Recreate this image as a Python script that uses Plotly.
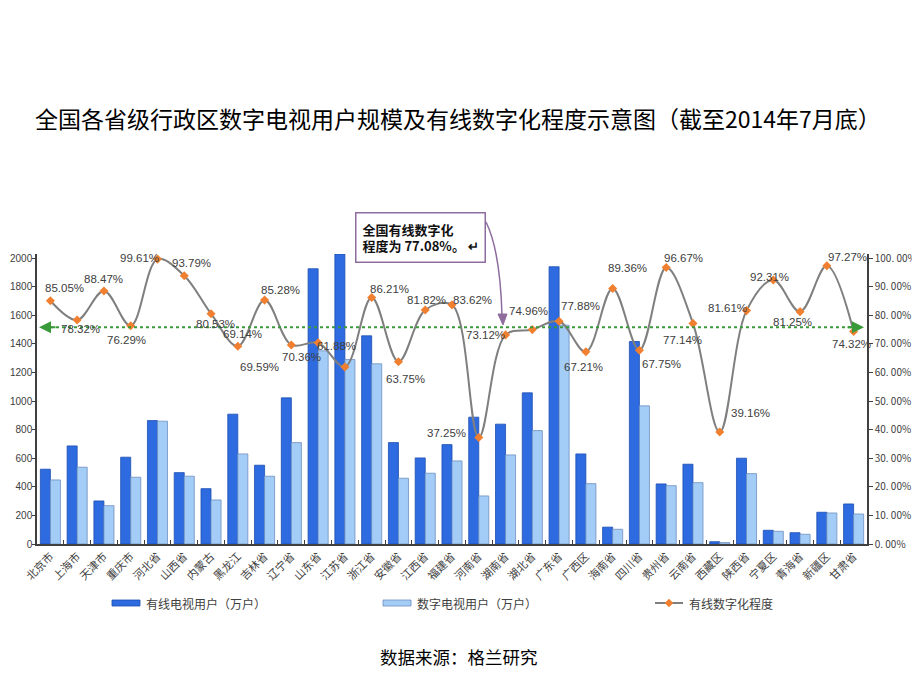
"""Province digital-TV users vs. cable digitisation rate (to July 2014)."""

import plotly.graph_objects as go

# categories
provinces = [
    "北京市", "上海市", "天津市", "重庆市", "河北省", "山西省", "内蒙古", "黑龙江",
    "吉林省", "辽宁省", "山东省", "江苏省", "浙江省", "安徽省", "江西省", "福建省",
    "河南省", "湖南省", "湖北省", "广东省", "广西区", "海南省", "四川省", "贵州省",
    "云南省", "西藏区", "陕西省", "宁夏区", "青海省", "新疆区", "甘肃省",
]
# 有线电视用户（万户）
cable_users = [
    523, 686, 301, 607, 863, 499, 387, 908, 551, 1022, 1925, 2028, 1456, 709, 602, 695,
    887, 838, 1057, 1939, 630, 118, 1416, 420, 558, 16, 600, 96, 79, 222, 280,
]
# 数字电视用户（万户）
digital_users = [
    448, 537, 268, 467, 859, 474, 308, 630, 474, 709, 1351, 1290, 1260, 460, 495, 581,
    336, 623, 793, 1530, 422, 103, 966, 408, 429, 10, 492, 89, 68, 217, 210,
]
# 有线数字化程度（%）
digitisation = [
    85.05, 78.32, 88.47, 76.29, 99.61, 93.79, 80.53, 69.14, 85.28, 69.59, 70.36, 61.88,
    86.21, 63.75, 81.82, 83.62, 37.25, 73.12, 74.96, 77.88, 67.21, 89.36, 67.75, 96.67,
    77.14, 39.16, 81.61, 92.31, 81.25, 97.27, 74.32,
]
left_ticks = [0, 200, 400, 600, 800, 1000, 1200, 1400, 1600, 1800, 2000]
right_ticks = [0, 10, 20, 30, 40, 50, 60, 70, 80, 90, 100]
right_ticktext = [
    "0. 00%", "10. 00%", "20. 00%", "30. 00%", "40. 00%", "50. 00%",
    "60. 00%", "70. 00%", "80. 00%", "90. 00%", "100. 00%",
]
reference_level = 75.8  # green dotted guide, as drawn

# data-label offsets from each point, in pixels (right, down) -- style only
label_offsets = [
    (14, -13), (3, 9), (0, -12), (-4, 14), (-18, -1), (7, -13), (4, 10), (5, -12),
    (16, -10), (-32, 22), (-17, 14), (-8, -21), (18, -8), (7, 17), (1, -10), (20, -5),
    (-32, -4), (-20, 0), (-4, -19), (21, -15), (-2, 15), (15, -20), (22, 14), (17, -10),
    (-10, 17), (31, -19), (-19, -3), (-4, -3), (-8, 10), (21, -9), (-2, 13),
]

FONT = "Noto Sans CJK SC, Noto Sans, sans-serif"
INK = "#404040"
PURPLE = "#8E6C9E"
GREEN = "#3A9A3A"
DARK = "#2E6BE0"
LIGHT = "#A3CCF7"
ORANGE = "#F08030"

# plot-area edges as seen in the page (the page body adds an 8px offset)
OFF = 8
L, R, T, B = 37, 867, 254, 544
W, H = 920 - OFF, 690 - OFF


def px(x):
    return (x - L) / (R - L)


def py(y):
    return (B - y) / (B - T)


def note(x, y, text, size, color=INK, **kw):
    fig.add_annotation(
        xref="paper", yref="paper", x=px(x), y=py(y), text=text, showarrow=False,
        xanchor=kw.pop("xanchor", "center"), yanchor="middle",
        font=dict(family=FONT, size=size, color=color), **kw,
    )


fig = go.Figure()
fig.add_bar(
    x=provinces, y=cable_users, name="有线电视用户（万户）",
    marker=dict(color=DARK, line=dict(color="#1D4FB0", width=0.8)),
)
fig.add_bar(
    x=provinces, y=digital_users, name="数字电视用户（万户）",
    marker=dict(color=LIGHT, line=dict(color="#6F8FBF", width=0.8)),
)
fig.add_scatter(
    x=provinces, y=digitisation, yaxis="y2", name="有线数字化程度",
    mode="lines+markers",
    line=dict(color="#7F7F7F", width=2, shape="spline", smoothing=1.0),
    marker=dict(color=ORANGE, size=7, symbol="diamond"),
    cliponaxis=False,
)
for prov, val, (dx, dy) in zip(provinces, digitisation, label_offsets):
    fig.add_annotation(
        x=prov, y=val, xref="x", yref="y2", text=f"{val:.2f}%", showarrow=False,
        xshift=dx, yshift=-dy,
        font=dict(family="Arial, Liberation Sans, sans-serif", size=11.5, color=INK),
    )

# green dotted guide line with arrowheads on both ends
fig.add_shape(
    type="line", xref="paper", yref="y2", x0=px(44), x1=px(858),
    y0=reference_level, y1=reference_level,
    line=dict(color=GREEN, width=2, dash="dot"),
)
for tip, tail in ((px(39), 18), (px(864), -18)):
    fig.add_annotation(
        xref="paper", yref="y2", x=tip, y=reference_level, ax=tail, ay=0,
        text="", showarrow=True, arrowhead=2, arrowsize=1.2, arrowwidth=2,
        arrowcolor=GREEN,
    )

# callout box and curved arrow
note(
    420, 237,
    "<b>全国有线数字化<br>程度为 77.08%。 ↵</b>",
    13, color="#111111", align="left",
    bordercolor=PURPLE, borderwidth=1.5, borderpad=6, bgcolor="white",
)
fig.add_shape(
    type="path", xref="paper", yref="paper",
    path=f"M {px(486)},{py(222)} Q {px(500)},{py(250)} {px(502)},{py(315)}",
    line=dict(color=PURPLE, width=1.5),
)
fig.add_shape(
    type="path", xref="paper", yref="paper",
    path=f"M {px(498)},{py(314)} L {px(507)},{py(314)} L {px(503)},{py(325)} Z",
    fillcolor=PURPLE, line=dict(color=PURPLE, width=1),
)

# title and source
note(458, 118, "全国各省级行政区数字电视用户规模及有线数字化程度示意图（截至2014年7月底）",
     23, color="#000000")
note(459, 656, "数据来源：格兰研究", 17.5, color="#000000")

# legend, drawn by hand to keep the wide spacing of the original
LEG_Y = 603
for x0, color, edge, label in (
    (112, DARK, "#1D4FB0", "有线电视用户（万户）"),
    (383, LIGHT, "#6F8FBF", "数字电视用户（万户）"),
):
    fig.add_shape(
        type="rect", xref="paper", yref="paper",
        x0=px(x0), x1=px(x0 + 28), y0=py(LEG_Y + 3), y1=py(LEG_Y - 3),
        fillcolor=color, line=dict(color=edge, width=0.8),
    )
    note(x0 + 32, LEG_Y, label, 12, xanchor="left")
fig.add_shape(
    type="line", xref="paper", yref="paper",
    x0=px(655), x1=px(683), y0=py(LEG_Y), y1=py(LEG_Y),
    line=dict(color="#7F7F7F", width=2),
)
fig.add_shape(
    type="path", xref="paper", yref="paper",
    path=(f"M {px(669)},{py(LEG_Y - 4)} L {px(673)},{py(LEG_Y)} "
          f"L {px(669)},{py(LEG_Y + 4)} L {px(665)},{py(LEG_Y)} Z"),
    fillcolor=ORANGE, line=dict(color=ORANGE, width=0.5),
)
note(687, LEG_Y, "有线数字化程度", 12, xanchor="left")

fig.update_layout(
    width=W, height=H,
    margin=dict(l=L - OFF, r=920 - R, t=T - OFF, b=690 - B),
    paper_bgcolor="white", plot_bgcolor="white",
    barmode="group", bargap=0.25, bargroupgap=0,
    font=dict(family=FONT, color=INK),
    showlegend=False,
    xaxis=dict(
        range=[-0.5, len(provinces) - 0.5], automargin=False,
        tickangle=-45, tickfont=dict(size=11, color=INK),
        showline=True, linecolor="#404040", linewidth=1.5,
        ticks="inside", tickson="boundaries", ticklen=4, tickcolor="#404040",
        showgrid=False,
    ),
    yaxis=dict(
        range=[0, 2028], tickvals=left_ticks,
        tickfont=dict(family="Liberation Sans, Arial, sans-serif", size=10, color=INK),
        automargin=False, ticklabelstandoff=-2,
        showline=True, linecolor="#404040", linewidth=1.5,
        ticks="outside", ticklen=3, tickcolor="#404040", showgrid=False, zeroline=False,
    ),
    yaxis2=dict(
        overlaying="y", side="right", range=[0, 101.4], automargin=False,
        tickvals=right_ticks, ticktext=right_ticktext,
        tickfont=dict(family="Noto Sans CJK SC, sans-serif", size=10, color=INK),
        showline=True, linecolor="#404040", linewidth=1.5,
        ticks="outside", ticklen=4, tickcolor="#404040", showgrid=False, zeroline=False,
    ),
)

fig.write_html("out.html")
